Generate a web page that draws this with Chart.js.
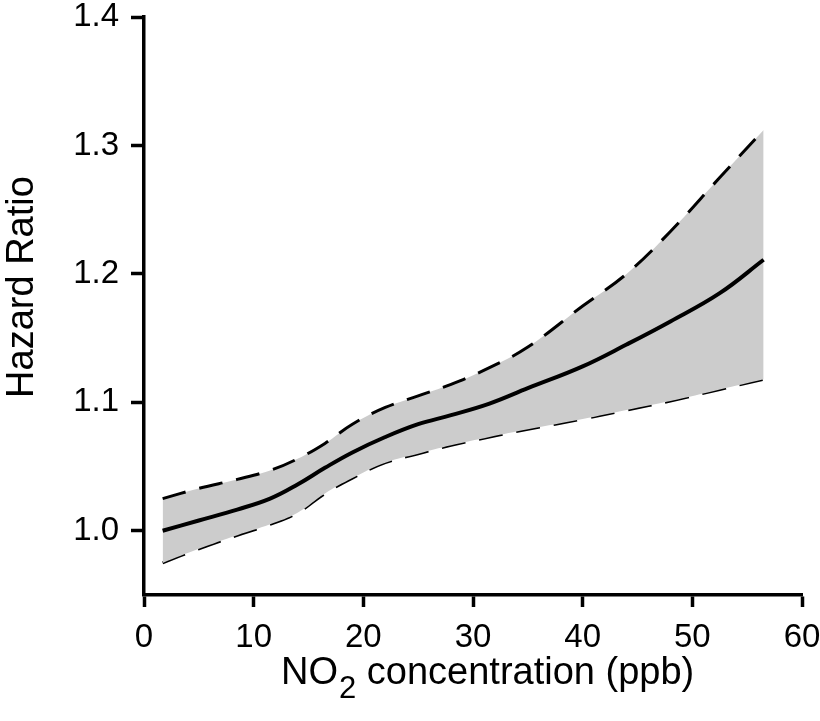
<!DOCTYPE html>
<html>
<head>
<meta charset="utf-8">
<script src="https://cdn.jsdelivr.net/npm/chart.js@4/dist/chart.umd.min.js"></script>
<style>
  html, body { margin: 0; padding: 0; background: #fff; }
  #wrap { width: 820px; height: 721px; }
</style>
</head>
<body>
<div id="wrap"><canvas id="c" width="820" height="721"></canvas></div>
<script>
// NO2 concentration (ppb)
const concentration = [1.7, 5, 8.5, 11.5, 14, 16.5, 19, 22, 25, 28, 31.5, 35, 40, 44, 48, 52.5, 56.5];
// Hazard ratio estimate
const hazardRatio   = [1.000, 1.008, 1.0165, 1.025, 1.036, 1.049, 1.061, 1.073, 1.083, 1.090, 1.099, 1.111, 1.128, 1.145, 1.163, 1.185, 1.211];
// Upper 95% confidence bound
const upperCI       = [1.025, 1.033, 1.040, 1.047, 1.056, 1.068, 1.083, 1.096, 1.105, 1.114, 1.127, 1.143, 1.175, 1.200, 1.233, 1.275, 1.312];
// Lower 95% confidence bound
const lowerCI       = [0.975, 0.986, 0.9965, 1.005, 1.014, 1.029, 1.041, 1.053, 1.060, 1.0665, 1.073, 1.079, 1.087, 1.094, 1.101, 1.110, 1.118];
// Tick labels
const xTicks = [0, 10, 20, 30, 40, 50, 60];
const yTicks = [1.0, 1.1, 1.2, 1.3, 1.4];
// Axis titles (x title: "NO" + subscript "2" + rest)
const xTitleParts = ['NO', '2', ' concentration (ppb)'];
const yTitle = 'Hazard Ratio';

const pts = arr => arr.map((v, i) => ({ x: concentration[i], y: v }));
const FONT = '"Liberation Sans", Arial, Helvetica, sans-serif';

// Draws the axis titles (x title with a true subscript) as canvas text
const titlesPlugin = {
  id: 'axisTitles',
  afterDraw(chart) {
    const ctx = chart.ctx;
    ctx.save();
    ctx.fillStyle = '#000';
    ctx.textBaseline = 'alphabetic';
    ctx.textAlign = 'left';
    let x = 281;
    const base = 684;
    ctx.font = '38px ' + FONT;
    ctx.fillText(xTitleParts[0], x, base);
    x += ctx.measureText(xTitleParts[0]).width + 1;
    ctx.font = '31px ' + FONT;
    ctx.fillText(xTitleParts[1], x, base + 14);
    x += ctx.measureText(xTitleParts[1]).width;
    ctx.font = '38px ' + FONT;
    ctx.fillText(xTitleParts[2], x, base);
    ctx.restore();

    ctx.save();
    ctx.fillStyle = '#000';
    ctx.font = '38px ' + FONT;
    ctx.textAlign = 'center';
    ctx.textBaseline = 'alphabetic';
    ctx.translate(33, 287);
    ctx.rotate(-Math.PI / 2);
    ctx.fillText(yTitle, 0, 0);
    ctx.restore();
  }
};

new Chart(document.getElementById('c'), {
  type: 'line',
  data: {
    datasets: [
      {
        label: 'Lower CI',
        data: pts(lowerCI),
        borderColor: '#000',
        borderWidth: 3,
        borderDash: [24, 14],
        pointRadius: 0,
        fill: false,
        order: 2,
        tension: 0.4
      },
      {
        label: 'Upper CI',
        data: pts(upperCI),
        borderColor: '#000',
        borderWidth: 3,
        borderDash: [24, 14],
        pointRadius: 0,
        backgroundColor: '#cccccc',
        fill: '-1',
        order: 1,
        tension: 0.4
      },
      {
        label: 'Hazard Ratio',
        data: pts(hazardRatio),
        borderColor: '#000',
        borderWidth: 4,
        borderDash: [],
        pointRadius: 0,
        fill: false,
        order: 0,
        tension: 0.4
      }
    ]
  },
  options: {
    responsive: false,
    animation: false,
    devicePixelRatio: 1,
    layout: { padding: { top: 17, right: 18, left: 0, bottom: 0 } },
    plugins: { legend: { display: false }, tooltip: { enabled: false } },
    scales: {
      x: {
        type: 'linear',
        min: 0, max: 60,
        afterBuildTicks: s => { s.ticks = xTicks.map(v => ({ value: v })); },
        afterFit: s => { s.height = 126; s.paddingLeft = 0; s.paddingRight = 0; },
        border: { display: true, color: '#000', width: 3.5 },
        grid: { drawOnChartArea: false, drawTicks: true, tickLength: 12, tickWidth: 3.5, tickColor: '#000' },
        ticks: { color: '#000', font: { family: FONT, size: 33 }, padding: 11, autoSkip: false, maxRotation: 0 },
        title: { display: false, text: xTitleParts.join('') }
      },
      y: {
        type: 'linear',
        min: 0.95, max: 1.4,
        afterBuildTicks: s => { s.ticks = yTicks.map(v => ({ value: v })); },
        afterFit: s => { s.width = 144; s.paddingTop = 0; s.paddingBottom = 0; },
        border: { display: true, color: '#000', width: 3.5 },
        grid: { drawOnChartArea: false, drawTicks: true, tickLength: 13, tickWidth: 3.5, tickColor: '#000' },
        ticks: { color: '#000', font: { family: FONT, size: 33 }, padding: 12, callback: v => Number(v).toFixed(1) },
        title: { display: false, text: yTitle }
      }
    }
  },
  plugins: [titlesPlugin]
});
</script>
</body>
</html>
